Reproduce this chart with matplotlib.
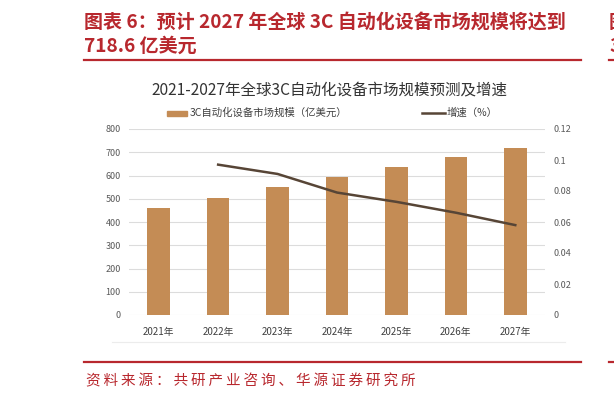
import matplotlib
matplotlib.use("Agg")
import matplotlib.pyplot as plt
from matplotlib.lines import Line2D
from matplotlib.patches import Rectangle

plt.rcParams['font.family'] = ['Noto Sans CJK SC', 'DejaVu Sans']

# data
years = ['2021年', '2022年', '2023年', '2024年', '2025年', '2026年', '2027年']
market = [460, 504, 550, 594, 637, 679, 718.6]        # 亿美元
growth_years = years[1:]
growth = [0.097, 0.091, 0.079, 0.073, 0.066, 0.058]

left_ticks = [0, 100, 200, 300, 400, 500, 600, 700, 800]
right_ticks = [0, 0.02, 0.04, 0.06, 0.08, 0.1, 0.12]
right_labels = ['0', '0.02', '0.04', '0.06', '0.08', '0.1', '0.12']

RED = '#b8282e'
BAR = '#c48c55'
LINE = '#574536'
GRID = '#dcdcdc'
TICK = '#595959'

W, H = 614, 401
fig = plt.figure(figsize=(W / 100, H / 100), dpi=100)


def px(x, y):
    return x / W, 1 - y / H


# report heading
fig.text(*px(84, 22), '图表 6：预计 2027 年全球 3C 自动化设备市场规模将达到',
         color=RED, fontsize=13.7, fontweight='bold', va='center', ha='left')
fig.text(*px(84, 46), '718.6 亿美元', color=RED, fontsize=13.7,
         fontweight='bold', va='center', ha='left')
fig.add_artist(Line2D([84 / W, 581 / W], [1 - 60 / H] * 2, color=RED, lw=1.6))
fig.add_artist(Line2D([84 / W, 581 / W], [1 - 362 / H] * 2, color=RED, lw=1.6))
source = '资料来源：共研产业咨询、华源证券研究所'
fig.text(*px(86, 381), '\u2009'.join(source), color=RED,
         fontsize=10.5, va='center', ha='left')

# glimpse of the next column at the right edge
fig.text(*px(609, 22), '图', color=RED, fontsize=13.7, fontweight='bold', va='center')
fig.text(*px(609, 46), '3', color=RED, fontsize=13.7, fontweight='bold', va='center')
fig.add_artist(Line2D([609 / W, 1], [1 - 60 / H] * 2, color=RED, lw=1.6))
fig.add_artist(Line2D([609 / W, 1], [1 - 362 / H] * 2, color=RED, lw=1.6))

# chart title and legend (part of the embedded image)
fig.text(*px(329, 90), '2021-2027年全球3C自动化设备市场规模预测及增速',
         color='#333333', fontsize=11.2, va='center', ha='center')
fig.add_artist(Rectangle(px(167, 116), 20 / W, 5 / H, color=BAR))
fig.text(*px(190, 113), '3C自动化设备市场规模（亿美元）', color='#404040',
         fontsize=7.5, va='center', ha='left')
fig.add_artist(Line2D([422 / W, 445 / W], [1 - 113 / H] * 2, color=LINE, lw=1.8))
fig.text(*px(447, 113), '增速（%）', color='#404040', fontsize=7.5,
         va='center', ha='left')

# plot area
x0, y0 = px(129, 315)
x1, y1 = px(545, 129)
ax = fig.add_axes([x0, y0, x1 - x0, y1 - y0])
pos = list(range(len(years)))
ax.bar(pos, market, width=0.38, color=BAR, zorder=2)
ax.set_xlim(-0.5, len(years) - 0.5)
ax.set_ylim(0, 800)
ax.set_yticks(left_ticks)
ax.grid(axis='y', color=GRID, lw=0.8, zorder=0)
ax.set_xticks(pos)
ax.set_xticklabels(years)
for s in ax.spines.values():
    s.set_visible(False)
ax.tick_params(length=0, labelsize=6.5, labelcolor=TICK)
ax.tick_params(axis='x', pad=9, labelsize=7, labelcolor='#404040')
ax.tick_params(axis='y', pad=6)

ax2 = ax.twinx()
ax2.plot(pos[1:], growth, color=LINE, lw=1.8, zorder=3)
ax2.set_ylim(0, 0.12)
ax2.set_yticks(right_ticks)
ax2.set_yticklabels(right_labels)
for s in ax2.spines.values():
    s.set_visible(False)
ax2.tick_params(length=0, labelsize=6.5, labelcolor=TICK, pad=6)

# faint baseline under the category labels
fig.add_artist(Line2D([112 / W, 565 / W], [1 - 342 / H] * 2, color='#ececec', lw=0.8))

fig.savefig('out.png', dpi=100, facecolor='white')
